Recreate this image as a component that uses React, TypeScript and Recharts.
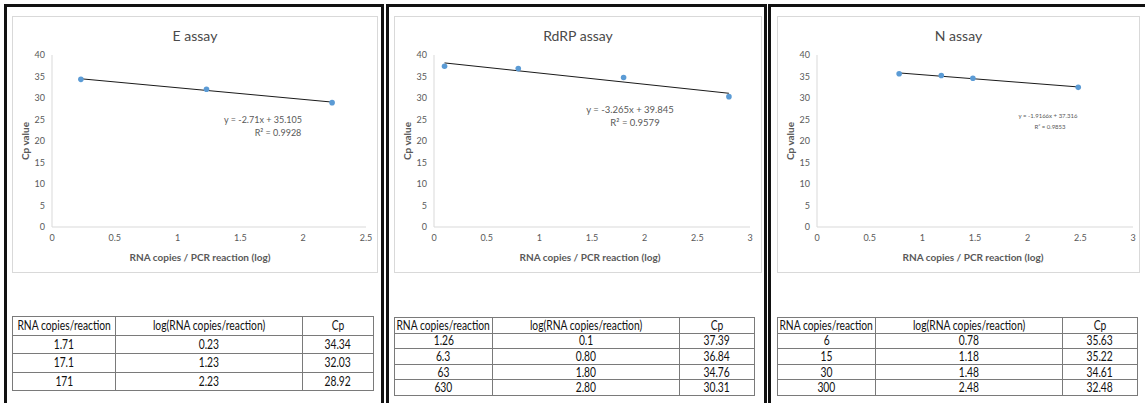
import { ComposedChart, Scatter, Line, XAxis, YAxis, Label } from "recharts";

// E assay
const E_COPIES = ["1.71", "17.1", "171"];
const E_LOG = ["0.23", "1.23", "2.23"];
const E_CP = [34.34, 32.03, 28.92];
const E_TREND_X = [0.23, 2.23];
const E_TREND_Y = [34.47, 29.05];

// RdRP assay
const RDRP_COPIES = ["1.26", "6.3", "63", "630"];
const RDRP_LOG = ["0.1", "0.80", "1.80", "2.80"];
const RDRP_CP = [37.39, 36.84, 34.76, 30.31];
const RDRP_TREND_X = [0.1, 2.8];
const RDRP_TREND_Y = [38.16, 31.1];

// N assay
const N_COPIES = ["6", "15", "30", "300"];
const N_LOG = ["0.78", "1.18", "1.48", "2.48"];
const N_CP = [35.63, 35.22, 34.61, 32.48];
const N_TREND_X = [0.78, 2.48];
const N_TREND_Y = [35.83, 32.57];

const Y_TICKS = [0, 5, 10, 15, 20, 25, 30, 35, 40];
const X_TICKS_25 = [0, 0.5, 1, 1.5, 2, 2.5];
const X_TICKS_3 = [0, 0.5, 1, 1.5, 2, 2.5, 3];
const HEADERS = ["RNA copies/reaction", "log(RNA copies/reaction)", "Cp"];

const FONT = "Lato, 'Open Sans', sans-serif";
const GREY = "#595959";

interface PanelProps {
  left: number;
  title: string;
  copies: string[];
  logs: string[];
  cp: number[];
  trendX: number[];
  trendY: number[];
  xTicks: number[];
  chartWidth: number;
  rightMargin: number;
  xLabelDx: number;
  eq: string;
  r2: string;
  eqPos: [number, number, number, number];
  eqSize: number;
  cols: number[];
  tableTop: number;
  rowH: number;
}

// narrow text, Calibri-like; negative margins keep the centring right
const Cell = ({ children }: { children: React.ReactNode }) => (
  <td style={cell}>
    <span style={{ display: "inline-block", transform: "scaleX(0.79)", margin: "0 -30px" }}>
      {children}
    </span>
  </td>
);

function Panel(p: PanelProps) {
  const points = p.logs.map((l, i) => ({ x: parseFloat(l), y: p.cp[i] }));
  const trend = p.trendX.map((x, i) => ({ x, y: p.trendY[i] }));
  const xMax = p.xTicks[p.xTicks.length - 1];
  const tick = { fontSize: 9, fill: GREY, fontFamily: FONT };
  const tableWidth = p.cols.reduce((a, b) => a + b, 0);
  return (
    <div style={{ position: "absolute", left: p.left, top: 0, width: 383, height: 403 }}>
      <div
        style={{
          position: "absolute",
          left: 12,
          top: 16,
          width: p.chartWidth,
          height: 257,
          border: "1px solid #d9d9d9",
          boxSizing: "border-box",
        }}
      >
        <ComposedChart
          width={p.chartWidth}
          height={257}
          margin={{ top: 39, right: p.rightMargin, left: 0, bottom: 0 }}
          style={{ position: "absolute", left: -1, top: -1 }}
        >
          <XAxis
            type="number"
            dataKey="x"
            domain={[0, xMax]}
            ticks={p.xTicks}
            height={46}
            tick={tick}
            tickSize={2}
            tickMargin={6}
            tickLine={false}
            axisLine={{ stroke: "#d9d9d9" }}
          >
            <Label
              value="RNA copies / PCR reaction (log)"
              position="center"
              dx={p.xLabelDx}
              dy={7}
              style={{ fontSize: 10, fontWeight: 700, fill: GREY, fontFamily: FONT }}
            />
          </XAxis>
          <YAxis
            type="number"
            dataKey="y"
            domain={[0, 40]}
            ticks={Y_TICKS}
            width={40}
            tick={tick}
            tickSize={2}
            tickMargin={5}
            tickLine={false}
            axisLine={{ stroke: "#d9d9d9" }}
          >
            <Label
              value="Cp value"
              angle={-90}
              position="center"
              dx={-7}
              style={{ fontSize: 10, fontWeight: 700, fill: GREY, fontFamily: FONT }}
            />
          </YAxis>
          <Line
            data={trend}
            dataKey="y"
            type="linear"
            stroke="#1a1a1a"
            strokeWidth={1}
            dot={false}
            activeDot={false}
            isAnimationActive={false}
          />
          <Scatter
            data={points}
            dataKey="y"
            fill="#5b9bd5"
            shape={(s: any) => <circle cx={s.cx} cy={s.cy} r={2.8} fill="#5b9bd5" />}
            isAnimationActive={false}
          />
        </ComposedChart>
        <div
          style={{
            position: "absolute",
            left: 0,
            width: "100%",
            top: 11,
            textAlign: "center",
            fontSize: 14,
            color: "#4a4a4a",
            fontFamily: FONT,
            lineHeight: "16px",
          }}
        >
          {p.title}
        </div>
      </div>
      {[p.eq, p.r2].map((t, i) => (
        <div
          key={t}
          style={{
            position: "absolute",
            left: p.eqPos[i * 2],
            top: p.eqPos[i * 2 + 1],
            transform: "translate(-50%, -50%)",
            fontSize: p.eqSize,
            color: GREY,
            fontFamily: FONT,
            whiteSpace: "nowrap",
          }}
        >
          {t}
        </div>
      ))}
      <table
        style={{
          position: "absolute",
          left: 12,
          top: p.tableTop,
          width: tableWidth,
          borderCollapse: "collapse",
          tableLayout: "fixed",
          fontFamily: FONT,
          fontSize: 13,
          color: "#111",
        }}
      >
        <colgroup>
          {p.cols.map((w, i) => (
            <col key={i} style={{ width: w }} />
          ))}
        </colgroup>
        <tbody>
          <tr style={{ height: p.rowH }}>
            {HEADERS.map((h) => (
              <Cell key={h}>{h}</Cell>
            ))}
          </tr>
          {p.copies.map((c, i) => (
            <tr key={c} style={{ height: p.rowH }}>
              <Cell>{c}</Cell>
              <Cell>{p.logs[i]}</Cell>
              <Cell>{p.cp[i].toFixed(2)}</Cell>
            </tr>
          ))}
        </tbody>
      </table>
    </div>
  );
}

const cell: React.CSSProperties = {
  border: "1px solid #7a7a7a",
  padding: 0,
  textAlign: "center",
  lineHeight: "13px",
  whiteSpace: "nowrap",
};

const frame = (left: number, width: number): React.CSSProperties => ({
  position: "absolute",
  left,
  top: 4,
  width,
  height: 420,
  border: "3px solid #111",
  boxSizing: "border-box",
});

export default function App() {
  return (
    <div
      style={{
        position: "absolute",
        left: 0,
        top: 0,
        width: 1145,
        height: 403,
        background: "#fff",
        overflow: "hidden",
      }}
    >
      <div style={frame(4, 380)} />
      <div style={frame(386, 381)} />
      <div style={frame(768, 390)} />
      <Panel
        left={0}
        title="E assay"
        copies={E_COPIES}
        logs={E_LOG}
        cp={E_CP}
        trendX={E_TREND_X}
        trendY={E_TREND_Y}
        xTicks={X_TICKS_25}
        chartWidth={366}
        rightMargin={12}
        xLabelDx={-9}
        eq="y = -2.71x + 35.105"
        r2="R² = 0.9928"
        eqPos={[263, 119, 278, 132]}
        eqSize={9}
        cols={[103, 187, 71]}
        tableTop={316}
        rowH={18.5}
      />
      <Panel
        left={382}
        title="RdRP assay"
        copies={RDRP_COPIES}
        logs={RDRP_LOG}
        cp={RDRP_CP}
        trendX={RDRP_TREND_X}
        trendY={RDRP_TREND_Y}
        xTicks={X_TICKS_3}
        chartWidth={368}
        rightMargin={12}
        xLabelDx={-2}
        eq="y = -3.265x + 39.845"
        r2="R² = 0.9579"
        eqPos={[248, 109, 253, 122]}
        eqSize={9.5}
        cols={[98, 187, 75]}
        tableTop={317}
        rowH={15.6}
      />
      <Panel
        left={765}
        title="N assay"
        copies={N_COPIES}
        logs={N_LOG}
        cp={N_CP}
        trendX={N_TREND_X}
        trendY={N_TREND_Y}
        xTicks={X_TICKS_3}
        chartWidth={363}
        rightMargin={7}
        xLabelDx={-2}
        eq="y = -1.9166x + 37.316"
        r2="R² = 0.9853"
        eqPos={[283, 115, 285, 126]}
        eqSize={6}
        cols={[98, 187, 75]}
        tableTop={317}
        rowH={15.6}
      />
    </div>
  );
}
